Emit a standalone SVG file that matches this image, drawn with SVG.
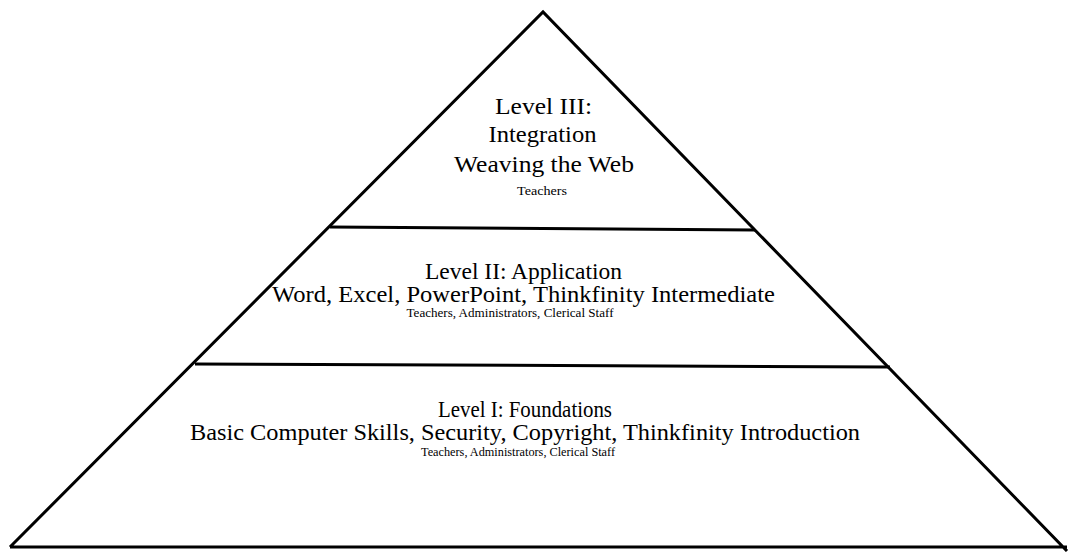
<svg xmlns="http://www.w3.org/2000/svg" width="1070" height="552" viewBox="0 0 1070 552">
<style>
.ln{stroke:#000;stroke-width:3;fill:none;stroke-linejoin:miter}
.big{font-family:"Liberation Serif","Times New Roman",serif;font-size:23px;fill:#000;text-anchor:middle}
.sm{font-family:"Liberation Serif","Times New Roman",serif;font-size:12px;fill:#000;text-anchor:middle}
</style>
<rect width="1070" height="552" fill="#fff"/>
<g id="pyramid">
<path class="ln" d="M10,547 L543,12 L1067,551 M10,547 L1067,547"/>
</g>
<g id="connectors">
<line class="ln" x1="330" y1="227" x2="755" y2="230"/>
<line class="ln" x1="195" y1="364" x2="890" y2="367"/>
</g>
<g id="level3">
<text class="big" x="543.5" y="114" textLength="97" lengthAdjust="spacingAndGlyphs">Level III:</text>
<text class="big" x="542.5" y="142" textLength="108" lengthAdjust="spacingAndGlyphs">Integration</text>
<text class="big" x="544" y="172" textLength="180" lengthAdjust="spacingAndGlyphs">Weaving the Web</text>
<text class="sm" x="542" y="195" textLength="50" lengthAdjust="spacingAndGlyphs">Teachers</text>
</g>
<g id="level2">
<text class="big" x="523.5" y="279" textLength="197" lengthAdjust="spacingAndGlyphs">Level II: Application</text>
<text class="big" x="523.5" y="302" textLength="503" lengthAdjust="spacingAndGlyphs">Word, Excel, PowerPoint, Thinkfinity Intermediate</text>
<text class="sm" x="510" y="317" textLength="207" lengthAdjust="spacingAndGlyphs">Teachers, Administrators, Clerical Staff</text>
</g>
<g id="level1">
<text class="big" x="525" y="417" textLength="174" lengthAdjust="spacingAndGlyphs">Level I: Foundations</text>
<text class="big" x="525" y="440" textLength="670" lengthAdjust="spacingAndGlyphs">Basic Computer Skills, Security, Copyright, Thinkfinity Introduction</text>
<text class="sm" x="518" y="456" textLength="194" lengthAdjust="spacingAndGlyphs">Teachers, Administrators, Clerical Staff</text>
</g>
</svg>
